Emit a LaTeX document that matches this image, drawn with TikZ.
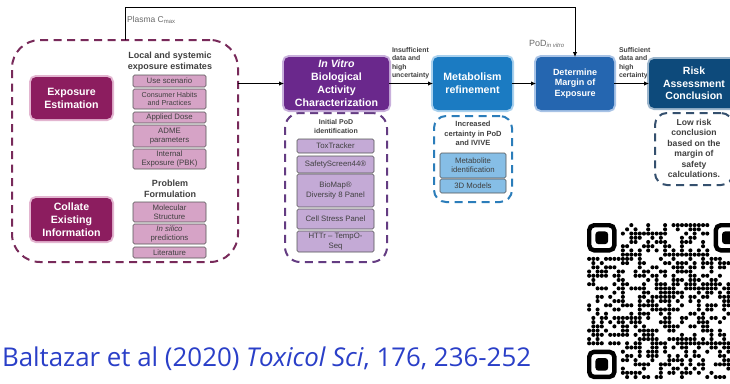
\documentclass[tikz,border=0pt]{standalone}
\usepackage{fontspec}
\setmainfont{Liberation Sans}
\newfontfamily\citefont{Open Sans}
\usetikzlibrary{arrows.meta,calc}

\definecolor{plum}{HTML}{8C1D5F}
\definecolor{plumglow}{HTML}{E3B5D0}
\definecolor{plumdash}{HTML}{782A5A}
\definecolor{pinksub}{HTML}{D6A3C6}
\definecolor{violet}{HTML}{6A288C}
\definecolor{violetglow}{HTML}{C9B0DC}
\definecolor{violetdash}{HTML}{643C82}
\definecolor{violetsub}{HTML}{C4AAD6}
\definecolor{azure}{HTML}{1B7BC2}
\definecolor{azureglow}{HTML}{A9D1EE}
\definecolor{azuredash}{HTML}{2B7DBA}
\definecolor{azuresub}{HTML}{86BEE6}
\definecolor{moeblue}{HTML}{2566B0}
\definecolor{moeblueglow}{HTML}{A8C3E6}
\definecolor{navy}{HTML}{0D4A7B}
\definecolor{navyglow}{HTML}{9DB6CC}
\definecolor{navydash}{HTML}{35506E}
\definecolor{boxedge}{HTML}{555555}
\definecolor{textgray}{HTML}{404040}
\definecolor{labelgray}{HTML}{6A6A6A}
\definecolor{citeblue}{HTML}{2A3FC8}
\definecolor{qrink}{HTML}{000000}

\tikzset{
  every node/.style={inner sep=0pt, outer sep=0pt},
  mainbox/.style={rounded corners=5pt, align=center, text=white,
    font=\bfseries\fontsize{10.6}{13}\selectfont},
  glowbox/.style={mainbox, fill=#1, preaction={draw=#1glow, line width=4pt}},
  subbox/.style={draw=boxedge, line width=0.6pt, rounded corners=1.5pt,
    align=center, text=textgray, font=\fontsize{7.8}{9.2}\selectfont},
  dashbox/.style={draw=#1, line width=2pt, dash pattern=on 8pt off 5.5pt},
  header/.style={align=center, text=textgray, font=\bfseries\fontsize{9}{11}\selectfont},
  smallhead/.style={align=center, text=textgray, font=\bfseries\fontsize{7}{9}\selectfont},
  sidelabel/.style={align=left, text=textgray, anchor=north west,
    font=\bfseries\fontsize{6.9}{8.3}\selectfont},
  flow/.style={draw=black, line width=0.9pt, -{Latex[length=5pt,width=4.5pt]}},
}

\begin{document}
\begin{tikzpicture}[x=1pt,y=-1pt]
\useasboundingbox (0,0) rectangle (730,383);
\fill[white] (0,0) rectangle (730,383);
\clip (0,0) rectangle (730,383);

% ---- dashed group frames ----
\node[dashbox=plumdash, rounded corners=28pt, minimum width=226pt, minimum height=222pt] (leftbox) at (125,151) {};
\node[dashbox=violetdash, rounded corners=15pt, minimum width=102pt, minimum height=149pt] (podbox) at (336,187.5) {};
\node[dashbox=azuredash, rounded corners=12pt, minimum width=78pt, minimum height=86pt] (refbox) at (473,159) {};
\node[dashbox=navydash, rounded corners=12pt, minimum width=78pt, minimum height=72pt] (lowbox) at (694,149) {};

% ---- exposure side ----
\node[glowbox=plum, minimum width=81pt, minimum height=42pt] (expo) at (71.5,98) {Exposure\\Estimation};
\node[glowbox=plum, minimum width=81pt, minimum height=43pt] (collate) at (71.5,219.5) {Collate\\Existing\\Information};

\node[header] (hlocal) at (170,61.5) {Local and systemic\\exposure estimates};
\node[subbox, fill=pinksub, minimum width=73pt, minimum height=12pt] (use) at (169.5,81) {Use scenario};
\node[subbox, fill=pinksub, minimum width=73pt, minimum height=20pt, font=\fontsize{7.2}{8.8}\selectfont] (habits) at (169.5,99) {Consumer Habits\\and Practices};
\node[subbox, fill=pinksub, minimum width=73pt, minimum height=11pt] (dose) at (169.5,117.5) {Applied Dose};
\node[subbox, fill=pinksub, minimum width=73pt, minimum height=22pt] (adme) at (169.5,136) {ADME\\parameters};
\node[subbox, fill=pinksub, minimum width=73pt, minimum height=20pt] (pbk) at (169.5,159) {Internal\\Exposure (PBK)};
\node[header] (hprob) at (170,188.5) {Problem\\Formulation};
\node[subbox, fill=pinksub, minimum width=73pt, minimum height=20pt] (molec) at (169.5,212) {Molecular\\Structure};
\node[subbox, fill=pinksub, minimum width=73pt, minimum height=20pt] (silico) at (169.5,234) {\textit{In silico}\\predictions};
\node[subbox, fill=pinksub, minimum width=73pt, minimum height=11pt] (lit) at (169.5,252.5) {Literature};

% ---- in vitro characterisation ----
\node[glowbox=violet, minimum width=105pt, minimum height=53pt] (invitro) at (336.5,83.5)
  {\textit{In Vitro}\\Biological\\Activity\\Characterization};
\node[smallhead] (hpod) at (336,126.5) {Initial PoD\\identification};
\node[subbox, fill=violetsub, minimum width=77pt, minimum height=14pt] (tox) at (335.5,146) {ToxTracker};
\node[subbox, fill=violetsub, minimum width=77pt, minimum height=17pt] (ss) at (335.5,164.5) {SafetyScreen44\textregistered};
\node[subbox, fill=violetsub, minimum width=77pt, minimum height=33pt] (biomap) at (335.5,190.5) {BioMap\textregistered\\Diversity 8 Panel};
\node[subbox, fill=violetsub, minimum width=77pt, minimum height=20pt] (stress) at (335.5,219) {Cell Stress Panel};
\node[subbox, fill=violetsub, minimum width=77pt, minimum height=21pt] (httr) at (335.5,241.5) {HTTr -- TempO-\\Seq};

\node[sidelabel] (insuff) at (392,47.5) {Insufficient\\data and\\high\\uncertainty};

% ---- metabolism refinement ----
\node[glowbox=azure, minimum width=79pt, minimum height=53pt] (metab) at (472.5,83.5) {Metabolism\\refinement};
\node[smallhead, font=\bfseries\fontsize{7.5}{9.3}\selectfont] (hinc) at (473,133.5) {Increased\\certainty in PoD\\and IVIVE};
\node[subbox, fill=azuresub, minimum width=66pt, minimum height=25pt] (metid) at (473,165.5) {Metabolite\\identification};
\node[subbox, fill=azuresub, minimum width=66pt, minimum height=14pt] (models) at (473,186) {3D Models};

% ---- margin of exposure ----
\node[glowbox=moeblue, minimum width=78pt, minimum height=53pt, font=\bfseries\fontsize{9}{10.4}\selectfont] (moe) at (575,83.5)
  {Determine\\Margin of\\Exposure};
\node[anchor=west, text=labelgray, font=\fontsize{9}{10}\selectfont] (podlab) at (529,44) {PoD\textsubscript{\itshape in vitro}};
\node[sidelabel] (suff) at (619,47.5) {Sufficient\\data and\\high\\certainty};

% ---- conclusion ----
\node[glowbox=navy, minimum width=90pt, minimum height=49pt, font=\bfseries\fontsize{10.5}{12.5}\selectfont] (risk) at (694,83.5)
  {Risk\\Assessment\\Conclusion};
\node[align=center, text=textgray, font=\bfseries\fontsize{8.6}{10.5}\selectfont] (lowtxt) at (694,148.5)
  {Low risk\\conclusion\\based on the\\margin of\\safety\\calculations.};

% ---- connectors ----
\node[anchor=west, text=labelgray, font=\fontsize{8.5}{10}\selectfont] (cmax) at (127,20) {Plasma C\textsubscript{max}};
\draw[flow] (leftbox.north) -- ++(0,-33) -| (moe.north);
\draw[flow] (leftbox.east |- invitro.west) -- (invitro.west);
\draw[flow] (invitro.east) -- (metab.west);
\draw[flow] (metab.east) -- (moe.west);
\draw[flow] (moe.east) -- (risk.west);

% ---- citation ----
\node[anchor=base west, text=citeblue] (cite) at (2,366)
  {\resizebox{529pt}{!}{\citefont\fontsize{20}{24}\selectfont Baltazar et al (2020) \textit{Toxicol Sci}, 176, 236-252}};

% ---- QR code ----
\pgfmathsetseed{11}
\begin{scope}[shift={(587,223)}]
  \foreach \i in {0,...,36}{
    \foreach \j in {0,...,36}{
      \pgfmathtruncatemacro{\qrskip}{((\i<8)&&(\j<8))||((\i>28)&&(\j<8))||((\i<8)&&(\j>28)) ? 1 : 0}
      \pgfmathtruncatemacro{\qrrand}{rnd<0.5 ? 1 : 0}
      \pgfmathtruncatemacro{\qrbit}{((\i==6)||(\j==6)) ? (mod(\i+\j,2)==0 ? 1 : 0) : \qrrand}
      \ifnum\qrskip=0 \ifnum\qrbit=1
        \fill[qrink] ({(\i+0.5)*4.22},{(\j+0.5)*4.22}) circle (2.05);
      \fi\fi
    }
  }
  \foreach \fx/\fy in {0/0,30/0,0/30}{
    \draw[qrink, line width=4.4pt, rounded corners=5pt]
      ({\fx*4.22+2.2},{\fy*4.22+2.2}) rectangle ({(\fx+7)*4.22-2.2},{(\fy+7)*4.22-2.2});
    \fill[qrink, rounded corners=3pt]
      ({(\fx+2)*4.22},{(\fy+2)*4.22}) rectangle ({(\fx+5)*4.22},{(\fy+5)*4.22});
  }
\end{scope}
\end{tikzpicture}
\end{document}
